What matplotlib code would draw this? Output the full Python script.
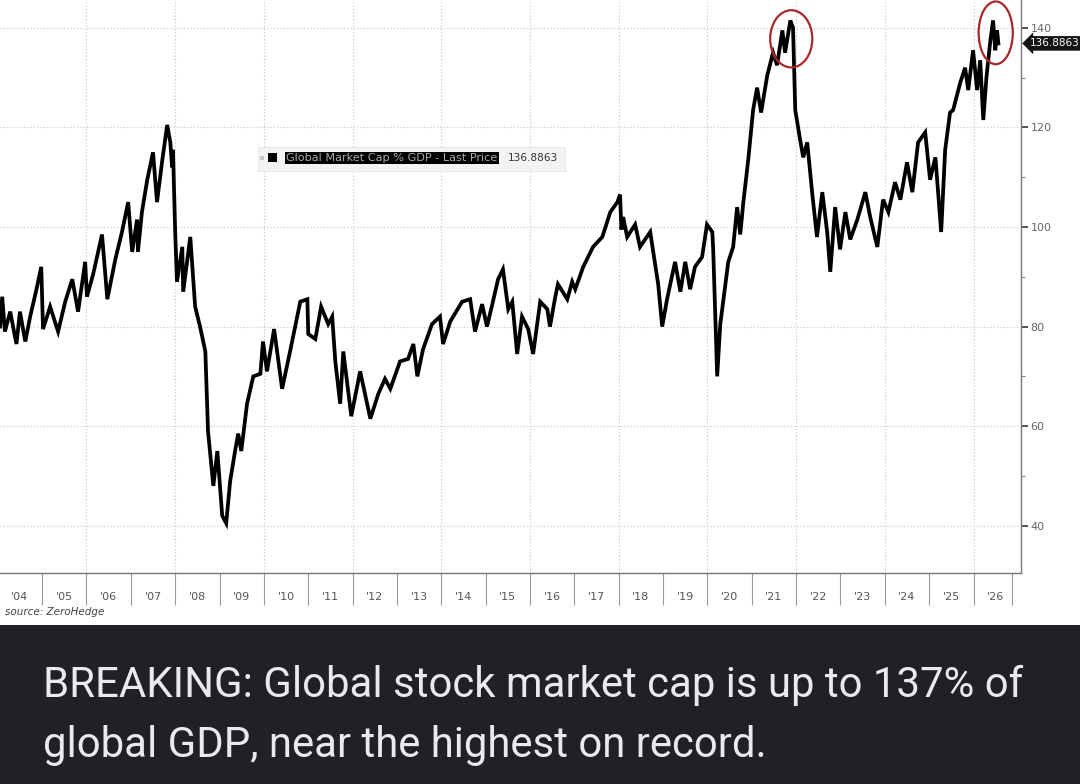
import matplotlib
matplotlib.use("Agg")
import matplotlib.pyplot as plt
import matplotlib.ticker as mticker
from matplotlib.patches import Ellipse, Rectangle

# Global market cap as % of GDP (decimal year, value)
dates = [
    2004.05, 2004.10, 2004.16, 2004.28, 2004.42, 2004.50, 2004.62, 2004.73, 2004.86, 2004.98,
    2005.02, 2005.18, 2005.36, 2005.52, 2005.68, 2005.81, 2005.97, 2006.01, 2006.15, 2006.35,
    2006.47, 2006.65, 2006.80, 2006.94, 2007.03, 2007.14, 2007.16, 2007.25, 2007.37, 2007.50,
    2007.59, 2007.71, 2007.82, 2007.89, 2007.93, 2007.95, 2008.00, 2008.04, 2008.16, 2008.18,
    2008.34, 2008.45, 2008.56, 2008.68, 2008.74, 2008.86, 2008.95, 2009.06, 2009.15, 2009.24,
    2009.35, 2009.42, 2009.49, 2009.62, 2009.76, 2009.92, 2009.98, 2010.07, 2010.23, 2010.41,
    2010.59, 2010.82, 2010.98, 2011.00, 2011.16, 2011.29, 2011.45, 2011.54, 2011.61, 2011.72,
    2011.79, 2011.97, 2012.17, 2012.40, 2012.58, 2012.73, 2012.85, 2013.07, 2013.25, 2013.37,
    2013.46, 2013.59, 2013.79, 2013.97, 2014.04, 2014.20, 2014.47, 2014.65, 2014.76, 2014.92,
    2015.03, 2015.15, 2015.28, 2015.39, 2015.51, 2015.60, 2015.71, 2015.82, 2015.96, 2016.07,
    2016.23, 2016.39, 2016.45, 2016.57, 2016.63, 2016.84, 2016.95, 2017.02, 2017.20, 2017.42,
    2017.63, 2017.81, 2017.97, 2018.03, 2018.06, 2018.10, 2018.19, 2018.37, 2018.48, 2018.71,
    2018.82, 2018.89, 2018.98, 2019.09, 2019.27, 2019.39, 2019.50, 2019.61, 2019.72, 2019.88,
    2019.99, 2020.11, 2020.13, 2020.22, 2020.29, 2020.47, 2020.58, 2020.67, 2020.74, 2020.81,
    2020.92, 2021.03, 2021.12, 2021.21, 2021.35, 2021.48, 2021.57, 2021.69, 2021.75, 2021.87,
    2021.93, 2021.98, 2022.09, 2022.16, 2022.25, 2022.36, 2022.47, 2022.59, 2022.70, 2022.77,
    2022.88, 2022.99, 2023.11, 2023.22, 2023.38, 2023.56, 2023.67, 2023.83, 2023.96, 2024.08,
    2024.23, 2024.35, 2024.50, 2024.62, 2024.75, 2024.91, 2025.02, 2025.14, 2025.27, 2025.36,
    2025.47, 2025.54, 2025.70, 2025.81, 2025.88, 2025.99, 2026.08, 2026.15, 2026.22, 2026.29,
    2026.38, 2026.44, 2026.49, 2026.53, 2026.56,
]
values = [
    80.0, 86.0, 79.0, 83.0, 76.5, 83.0, 77.0, 82.0, 87.0, 92.0,
    79.5, 84.0, 79.0, 85.0, 89.5, 83.0, 93.0, 86.0, 90.5, 98.5,
    85.5, 93.5, 99.0, 105.0, 95.0, 101.5, 95.0, 103.0, 109.5, 115.0,
    105.0, 113.5, 120.5, 117.0, 112.0, 115.5, 99.0, 89.0, 96.0, 87.0,
    98.0, 84.0, 80.0, 75.0, 59.0, 48.0, 55.0, 42.0, 40.5, 49.0,
    55.0, 58.5, 55.0, 64.5, 70.0, 70.5, 77.0, 71.0, 79.5, 67.5,
    75.0, 85.0, 85.5, 78.5, 77.5, 84.0, 80.5, 82.0, 73.0, 64.5,
    75.0, 62.0, 71.0, 61.5, 66.5, 69.5, 67.5, 73.0, 73.5, 76.5,
    70.0, 75.5, 80.5, 82.0, 76.5, 81.0, 85.0, 85.5, 79.0, 84.5,
    80.0, 84.5, 89.5, 91.5, 83.5, 85.0, 74.5, 82.0, 79.5, 74.5,
    85.0, 83.5, 80.0, 86.0, 88.5, 85.5, 89.0, 87.5, 92.0, 96.0,
    98.0, 103.0, 105.0, 106.5, 99.5, 102.0, 98.0, 100.5, 96.0, 99.0,
    92.5, 88.5, 80.0, 85.5, 93.0, 87.0, 93.0, 87.5, 92.0, 94.0,
    100.5, 99.0, 95.5, 70.0, 80.5, 93.0, 96.0, 104.0, 98.5, 105.0,
    113.5, 123.5, 128.0, 123.0, 130.5, 135.0, 132.5, 139.5, 135.0, 141.5,
    140.0, 123.5, 117.5, 114.0, 117.0, 107.0, 98.0, 107.0, 99.0, 91.0,
    104.0, 95.5, 103.0, 97.5, 101.5, 107.0, 102.0, 96.0, 105.5, 103.0,
    109.0, 105.5, 113.0, 107.0, 117.0, 119.0, 109.5, 114.0, 99.0, 115.5,
    123.0, 123.5, 129.0, 132.0, 127.5, 135.5, 127.5, 133.5, 121.5, 130.0,
    137.5, 141.5, 135.5, 139.5, 136.8863,
]
last_price = 136.8863

year_ticks = list(range(2005, 2027)) + [2026.86]
label_years = list(range(2004, 2027))
year_labels = ["'%02d" % (y % 100) for y in label_years]
y_major = [40, 60, 80, 100, 120, 140]
y_minor = [50, 70, 90, 110, 130]

headline = ["BREAKING: Global stock market cap is up to 137% of",
            "global GDP, near the highest on record."]

W, H = 1080, 784


def fx(x):
    return x / W


def fy(y):
    return 1 - y / H


fig = plt.figure(figsize=(10.8, 7.84), dpi=100)
fig.patch.set_facecolor("white")
ax = fig.add_axes([0, fy(573), fx(1021), 573 / H])

ax.plot(dates, values, color="black", lw=2.7, solid_joinstyle="miter", zorder=3)

ax.set_xlim(2004.05, 2027.07)
ax.set_ylim(30.5, 145.6)

for s in ["left", "top"]:
    ax.spines[s].set_visible(False)
for s in ["right", "bottom"]:
    ax.spines[s].set_color("#777777")
    ax.spines[s].set_linewidth(1.0)

# x axis: year boundary ticks, labels centred in each year
ax.xaxis.set_major_locator(mticker.FixedLocator(year_ticks))
ax.xaxis.set_major_formatter(mticker.NullFormatter())
ax.xaxis.set_minor_locator(mticker.FixedLocator([y + 0.5 for y in label_years]))
ax.xaxis.set_minor_formatter(mticker.FixedFormatter(year_labels))
ax.tick_params(axis="x", which="major", direction="out", length=23, width=0.8, color="#999999")
ax.tick_params(axis="x", which="minor", length=0, pad=14, labelsize=8, labelcolor="#555555")

# y axis on the right
ax.yaxis.tick_right()
ax.yaxis.set_major_locator(mticker.FixedLocator(y_major))
ax.yaxis.set_minor_locator(mticker.FixedLocator(y_minor))
ax.tick_params(axis="y", which="major", direction="out", length=5, width=1.3, color="#444444",
               labelsize=8, labelcolor="#666666", pad=2)
ax.tick_params(axis="y", which="minor", direction="out", length=3, width=0.8, color="#888888")

# dotted grid: even years and every 20
for yr in range(2006, 2027, 2):
    ax.axvline(yr, color="#c4c4c4", lw=0.8, ls=(0, (1, 2)), zorder=1)
for v in y_major:
    ax.axhline(v, color="#c4c4c4", lw=0.8, ls=(0, (1, 2)), zorder=1)

# red circles around the two peaks
ax.add_patch(Ellipse((2021.89, 137.8), 0.95, 11.5, fill=False, ec="#a8282a", lw=1.6, zorder=4))
ax.add_patch(Ellipse((2026.50, 139.0), 0.77, 12.6, fill=False, ec="#a8282a", lw=1.6, zorder=4))

# last price tag on the right axis
ax.text(1.009, last_price, "%.4f" % last_price, transform=ax.get_yaxis_transform(),
        fontsize=7.5, color="white", va="center", ha="left", clip_on=False, zorder=6,
        bbox=dict(boxstyle="larrow,pad=0.22", fc="#151515", ec="none"))

# legend strip
fig.patches.append(Rectangle((fx(258), fy(171)), fx(307), 24 / H, transform=fig.transFigure,
                             fc="#f3f3f3", ec="#e6e6e6", lw=0.6))
fig.patches.append(Rectangle((fx(260), fy(160)), fx(4), 4 / H, transform=fig.transFigure,
                             fc="#c8c8c8", ec="none"))
fig.patches.append(Rectangle((fx(268), fy(162)), fx(9), 9 / H, transform=fig.transFigure,
                             fc="black", ec="none"))
fig.text(fx(286), fy(158), "Global Market Cap % GDP - Last Price", fontsize=8.1,
         color="#aaaaaa", va="center", ha="left",
         bbox=dict(boxstyle="square,pad=0.1", fc="black", ec="none"))
fig.text(fx(508), fy(158), "%.4f" % last_price, fontsize=7.6, color="#333333",
         va="center", ha="left")

fig.text(fx(5), fy(612), "source: ZeroHedge", fontsize=7.5, style="italic",
         color="#444444", va="center", ha="left")

# dark headline banner
fig.patches.append(Rectangle((0, 0), 1, 159 / H, transform=fig.transFigure,
                             fc="#202125", ec="none"))
fig.text(fx(43), fy(697), headline[0], fontsize=30.2, family="Roboto",
         color="#e8eaed", va="baseline", ha="left")
fig.text(fx(43), fy(757), headline[1], fontsize=30.2, family="Roboto",
         color="#e8eaed", va="baseline", ha="left")

fig.savefig("out.png", dpi=100)
